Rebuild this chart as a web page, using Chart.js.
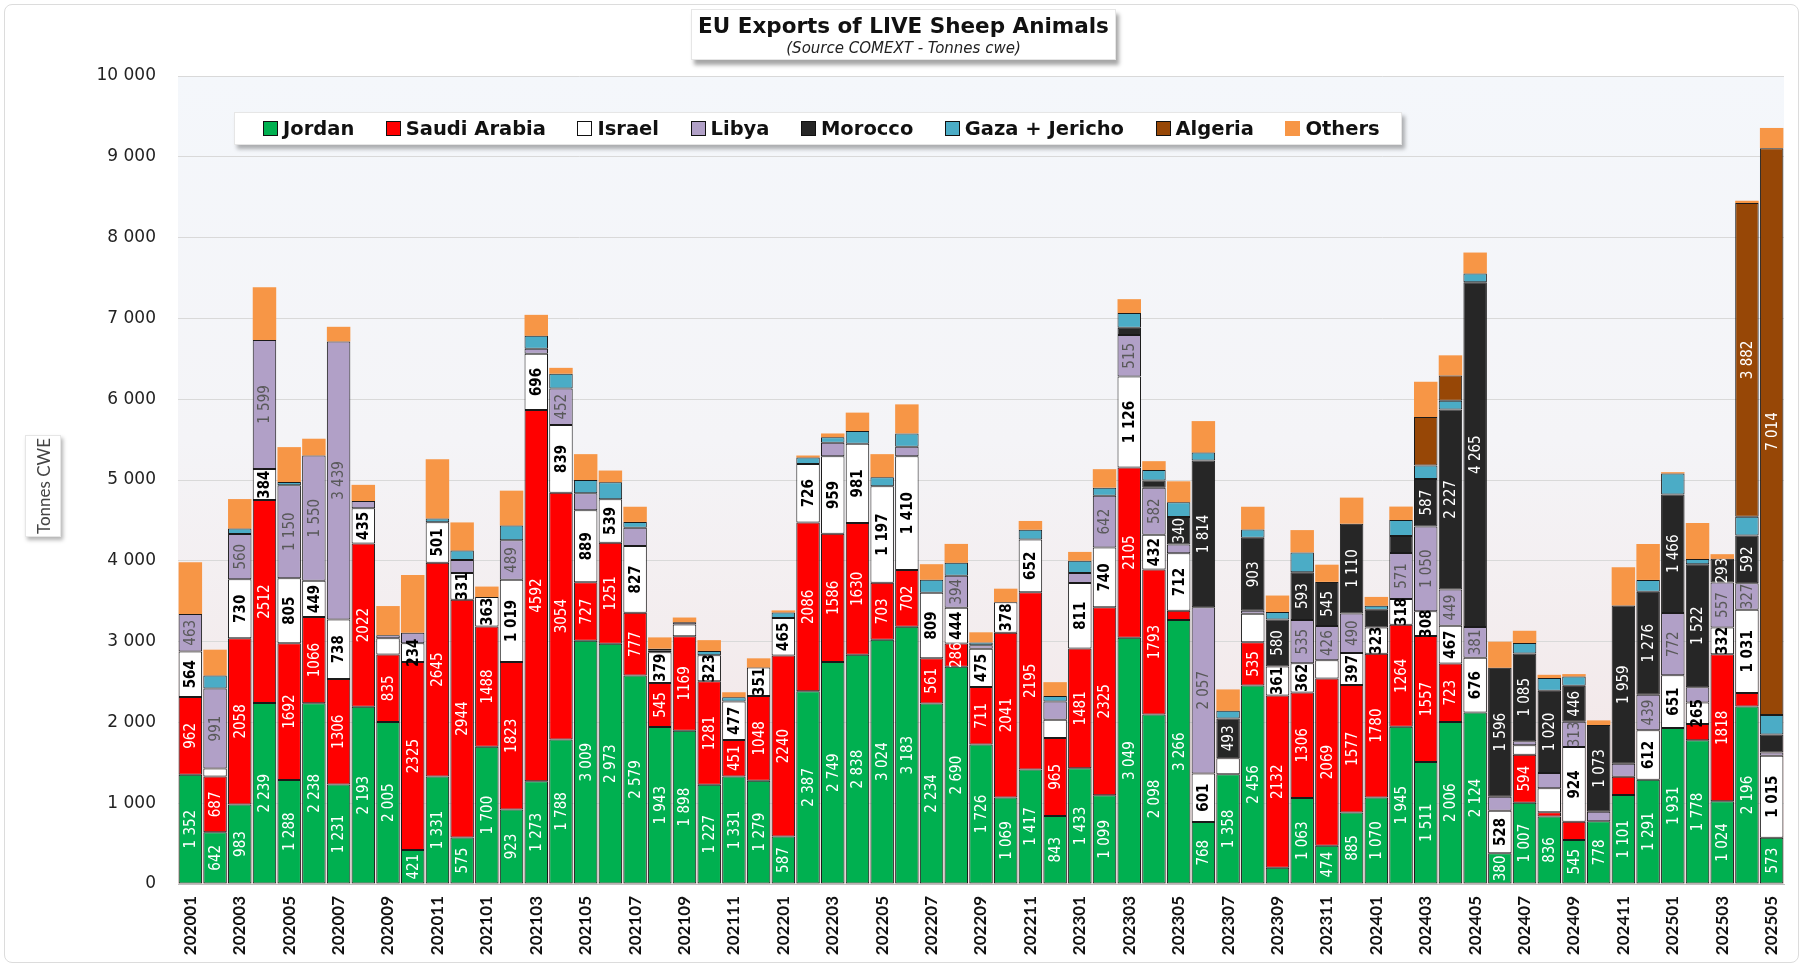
<!DOCTYPE html>
<html lang="en">
<head>
<meta charset="UTF-8">
<title>EU Exports of LIVE Sheep Animals</title>
<script src="https://cdn.jsdelivr.net/npm/chart.js@4"></script>
<style>
    body { margin: 0; background: #fff; font-family: "DejaVu Sans", sans-serif; }
    #wrap { position: relative; width: 1805px; height: 969px; }
    #frame { position: absolute; left: 4px; top: 4px; width: 1795px; height: 959px; border: 1px solid #dcdcdc; border-radius: 8px; box-sizing: border-box; }
    #chart-box { position: absolute; left: 0; top: 0; width: 1805px; height: 969px; }
    #title { position: absolute; left: 691px; top: 9px; width: 423px; height: 49px; background: #fff;
             border: 1px solid #e6e6e6; box-shadow: 3px 5px 4px rgba(0,0,0,0.35); text-align: center; }
    #title .main { font-weight: bold; font-size: 21.5px; color: #111; margin-top: 3px; white-space: nowrap; }
    #title .sub { font-style: italic; font-size: 15px; color: #222; margin-top: 1px; white-space: nowrap; }
    #ytitle { position: absolute; left: 25px; top: 435px; width: 34px; height: 100px; background: #fff;
              box-shadow: 2px 3px 4px rgba(0,0,0,0.3); border: 1px solid #e6e6e6; }
    #ytitle span { position: absolute; left: 50%; top: 50%; transform: translate(-50%, -50%) rotate(-90deg);
                   white-space: nowrap; font-family: Lato, sans-serif; font-size: 17px; color: #444; }
    #legend { position: absolute; left: 234px; top: 112px; width: 1168px; height: 33px; background: #fff;
              border: 1px solid #e6e6e6; box-shadow: 3px 4px 4px rgba(0,0,0,0.3); box-sizing: border-box;
              display: flex; align-items: center; padding-left: 28px; }
    .item { display: flex; align-items: center; font-weight: bold; font-size: 19.5px; color: #111; margin-right: 31.5px; white-space: nowrap; }
    .sw { width: 13px; height: 13px; border: 1px solid #111; margin-right: 5px; }
</style>
</head>
<body>
<div id="wrap">
    <div id="frame"></div>
    <div id="chart-box"><canvas id="sheepChart"></canvas></div>
    <div id="title">
        <div class="main">EU Exports of LIVE Sheep Animals</div>
        <div class="sub">(Source COMEXT - Tonnes cwe)</div>
    </div>
    <div id="ytitle"><span>Tonnes CWE</span></div>
    <div id="legend"></div>
</div>

<script>
    const months = [
        '202001','202002','202003','202004','202005','202006','202007','202008','202009','202010','202011','202012',
        '202101','202102','202103','202104','202105','202106','202107','202108','202109','202110','202111','202112',
        '202201','202202','202203','202204','202205','202206','202207','202208','202209','202210','202211','202212',
        '202301','202302','202303','202304','202305','202306','202307','202308','202309','202310','202311','202312',
        '202401','202402','202403','202404','202405','202406','202407','202408','202409','202410','202411','202412',
        '202501','202502','202503','202504','202505'
    ];

    const jordan = [
        1352, 642, 983, 2239, 1288, 2238, 1231, 2193, 2005, 421, 1331, 575,
        1700, 923, 1273, 1788, 3009, 2973, 2579, 1943, 1898, 1227, 1331, 1279,
        587, 2387, 2749, 2838, 3024, 3183, 2234, 2690, 1726, 1069, 1417, 843,
        1433, 1099, 3049, 2098, 3266, 768, 1358, 2456, 200, 1063, 474, 885,
        1070, 1945, 1511, 2006, 2124, 380, 1007, 836, 545, 778, 1101, 1291,
        1931, 1778, 1024, 2196, 573
    ];
    const saudiArabia = [
        962, 687, 2058, 2512, 1692, 1066, 1306, 2022, 835, 2325, 2645, 2944,
        1488, 1823, 4592, 3054, 727, 1251, 777, 545, 1169, 1281, 451, 1048,
        2240, 2086, 1586, 1630, 703, 702, 561, 286, 711, 2041, 2195, 965,
        1481, 2325, 2105, 1793, 115, 0, 0, 535, 2132, 1306, 2069, 1577,
        1780, 1264, 1557, 723, 0, 0, 594, 52, 225, 0, 225, 0,
        0, 202, 1818, 168, 0
    ];
    const israel = [
        564, 100, 730, 384, 805, 449, 738, 435, 200, 234, 501, 331,
        363, 1019, 696, 839, 889, 539, 827, 379, 146, 323, 477, 351,
        465, 726, 959, 981, 1197, 1410, 809, 444, 475, 378, 652, 225,
        811, 740, 1126, 432, 712, 601, 198, 354, 361, 362, 225, 397,
        323, 318, 308, 467, 676, 528, 115, 297, 924, 0, 0, 612,
        651, 265, 332, 1031, 1015
    ];
    const libya = [
        463, 991, 560, 1599, 1150, 1550, 3439, 90, 40, 130, 0, 161,
        0, 489, 62, 452, 210, 0, 225, 20, 25, 0, 0, 0,
        0, 0, 167, 0, 0, 115, 0, 394, 42, 0, 0, 225,
        125, 642, 515, 582, 109, 2057, 0, 36, 0, 535, 426, 490,
        0, 571, 1050, 449, 381, 172, 52, 188, 313, 116, 162, 439,
        772, 191, 557, 327, 40
    ];
    const morocco = [
        0, 0, 0, 0, 0, 0, 0, 0, 0, 0, 0, 0,
        0, 0, 0, 0, 0, 0, 0, 0, 0, 0, 0, 0,
        0, 0, 0, 0, 0, 0, 0, 0, 0, 0, 0, 0,
        0, 0, 89, 89, 340, 1814, 493, 903, 580, 593, 545, 1110,
        220, 208, 587, 2227, 4265, 1596, 1085, 1020, 446, 1073, 1959, 1276,
        1466, 1522, 293, 592, 222
    ];
    const gazaJericho = [
        0, 160, 68, 0, 40, 0, 0, 0, 0, 0, 47, 115,
        0, 182, 161, 182, 165, 208, 73, 25, 0, 52, 52, 0,
        68, 78, 68, 156, 110, 167, 161, 161, 36, 0, 120, 68,
        151, 99, 182, 130, 182, 99, 94, 104, 94, 245, 0, 0,
        50, 198, 167, 109, 109, 0, 130, 156, 115, 0, 0, 145,
        260, 64, 0, 231, 243
    ];
    const algeria = [
        0, 0, 0, 0, 0, 0, 0, 0, 0, 0, 0, 0,
        0, 0, 0, 0, 0, 0, 0, 0, 0, 0, 0, 0,
        0, 0, 0, 0, 0, 0, 0, 0, 0, 0, 0, 0,
        0, 0, 0, 0, 0, 0, 0, 0, 0, 0, 0, 0,
        0, 0, 599, 312, 0, 0, 0, 0, 0, 0, 0, 0,
        0, 0, 0, 3882, 7014
    ];
    const others = [
        640, 320, 365, 651, 432, 208, 182, 200, 360, 713, 734, 349,
        130, 432, 260, 73, 320, 146, 188, 140, 60, 135, 62, 115,
        26, 26, 47, 229, 286, 359, 193, 234, 125, 167, 109, 172,
        109, 229, 172, 109, 260, 390, 265, 281, 203, 276, 213, 323,
        110, 167, 437, 250, 260, 323, 151, 40, 30, 58, 474, 445,
        17, 445, 58, 29, 250
    ];

    const yTicks = [0, 1000, 2000, 3000, 4000, 5000, 6000, 7000, 8000, 9000, 10000];

    // segments the original left without a value label
    const unlabeled = { 'Israel': ['202308', '202408'] };

    // name, data, fill, label colour, min value to get a label, thousands separator
    const series = [
        { name: 'Jordan',         data: jordan,       color: '#00b050', text: '#ffffff', min: 230, sep: true },
        { name: 'Saudi Arabia',   data: saudiArabia,  color: '#ff0000', text: '#ffffff', min: 230, sep: false },
        { name: 'Israel',         data: israel,       color: '#ffffff', text: '#000000', min: 230, sep: true, bold: true },
        { name: 'Libya',          data: libya,        color: '#b1a0c7', text: '#595959', min: 230, sep: true },
        { name: 'Morocco',        data: morocco,      color: '#262626', text: '#ffffff', min: 230, sep: true },
        { name: 'Gaza + Jericho', data: gazaJericho,  color: '#4bacc6', text: null },
        { name: 'Algeria',        data: algeria,      color: '#974706', text: '#ffffff', min: 1000, sep: true },
        { name: 'Others',         data: others,       color: '#f79646', text: null, noBorder: true }
    ];

    function fmt(v, sep) {
        const s = String(Math.round(v));
        return sep ? s.replace(/\B(?=(\d{3})+(?!\d))/g, ' ') : s;
    }

    // legend
    const legend = document.getElementById('legend');
    series.forEach(s => {
        const item = document.createElement('div');
        item.className = 'item';
        const border = s.noBorder ? 'border-color:' + s.color : '';
        item.innerHTML = '<span class="sw" style="background:' + s.color + ';' + border + '"></span>' + s.name;
        legend.appendChild(item);
    });

    const plotBackground = {
        id: 'plotBackground',
        beforeDraw(chart) {
            const { ctx, chartArea: a } = chart;
            const g = ctx.createLinearGradient(0, a.top, 0, a.bottom);
            g.addColorStop(0, '#f4f7fb');
            g.addColorStop(0.45, '#f4f4f7');
            g.addColorStop(1, '#f2e3e3');
            ctx.save();
            ctx.fillStyle = g;
            ctx.fillRect(a.left, a.top, a.right - a.left, a.bottom - a.top);
            ctx.restore();
        }
    };

    const segmentLabels = {
        id: 'segmentLabels',
        afterDatasetsDraw(chart) {
            const ctx = chart.ctx;
            ctx.save();
            ctx.textAlign = 'center';
            ctx.textBaseline = 'middle';
            series.forEach((s, di) => {
                if (!s.text) return;
                const skip = unlabeled[s.name] || [];
                const meta = chart.getDatasetMeta(di);
                meta.data.forEach((bar, i) => {
                    const v = s.data[i];
                    if (v < s.min || skip.includes(months[i])) return;
                    const cy = (bar.y + bar.base) / 2;
                    ctx.save();
                    ctx.translate(bar.x, cy);
                    ctx.rotate(-Math.PI / 2);
                    ctx.font = (s.bold ? 'bold ' : '') + '15px "DejaVu Sans Condensed", "Liberation Sans Narrow", sans-serif';
                    ctx.fillStyle = s.text;
                    ctx.fillText(fmt(v, s.sep), 0, 1);
                    ctx.restore();
                });
            });
            ctx.restore();
        }
    };

    const ctx = document.getElementById('sheepChart').getContext('2d');
    new Chart(ctx, {
        type: 'bar',
        data: {
            labels: months,
            datasets: series.map(s => ({
                label: s.name,
                data: s.data,
                backgroundColor: s.color,
                borderColor: '#1a1a1a',
                borderWidth: s.noBorder ? 0 : 1,
                borderSkipped: false,
                categoryPercentage: 0.95,
                barPercentage: 1
            }))
        },
        options: {
            responsive: true,
            maintainAspectRatio: false,
            animation: false,
            layout: { padding: { left: 0, top: 76, right: 21, bottom: 0 } },
            plugins: {
                legend: { display: false },
                tooltip: { enabled: false }
            },
            scales: {
                x: {
                    stacked: true,
                    grid: { display: false },
                    border: { display: true, color: '#bfbfbf' },
                    afterFit: s => { s.height = 85; },
                    ticks: {
                        autoSkip: false,
                        minRotation: 90,
                        maxRotation: 90,
                        padding: 4,
                        color: '#111',
                        font: { family: 'Lato', weight: 'bold', size: 17 },
                        callback: (v, i) => (i % 2 === 0 ? months[i] : '')
                    }
                },
                y: {
                    stacked: true,
                    min: 0,
                    max: 10000,
                    afterFit: s => { s.width = 178; },
                    afterBuildTicks: s => { s.ticks = yTicks.map(v => ({ value: v })); },
                    grid: { color: '#d9d9d9', drawTicks: false, tickLength: 0 },
                    border: { display: false },
                    ticks: {
                        padding: 22,
                        color: '#222',
                        font: { family: 'DejaVu Sans', size: 17 },
                        callback: v => fmt(v, true)
                    }
                }
            }
        },
        plugins: [plotBackground, segmentLabels]
    });
</script>
</body>
</html>
